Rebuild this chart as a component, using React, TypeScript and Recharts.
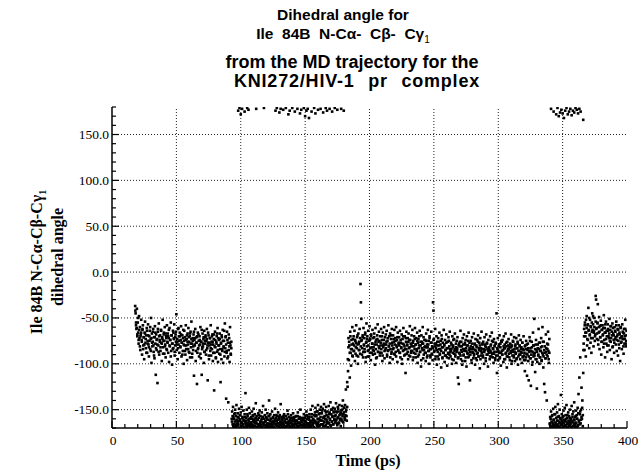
import React from 'react';
import { ScatterChart, Scatter, XAxis, YAxis, ReferenceLine } from 'recharts';

// Two sampling passes over the trajectory: 3 frames/ps and 2 frames/ps (offset)
const PASS1_PER_PS = 3;
const PASS2_PER_PS = 2;
const PASS2_OFFSET = 1 / 6;

// Segment A: 18 ps - 93 ps (state around -75)
const SEG_A_START = 18;
const SEG_A = [
  -37,-45,-58,-62,-40,-70,-55,-66,-78,-48,-72,-60,-85,-68,-52,
  -74,-90,-63,-58,-80,-71,-95,-66,-54,-77,-83,-69,-61,-88,-75,
  -57,-79,-92,-70,-64,-84,-73,-50,-99,-67,-81,-76,-62,-87,-71,
  -94,-59,-78,-112,-68,-85,-73,-121,-65,-80,-56,-90,-74,-69,-86,
  -63,-77,-97,-71,-52,-82,-75,-66,-89,-60,-79,-93,-70,-84,-58,
  -76,-67,-88,-72,-98,-61,-81,-74,-55,-86,-69,-101,-78,-64,-83,
  -72,-57,-91,-80,-68,-76,-46,-85,-73,-95,-62,-79,-70,-88,-66,
  -81,-74,-59,-92,-77,-69,-86,-63,-100,-75,-80,-71,-90,-58,-84,
  -73,-96,-67,-79,-61,-87,-76,-70,-93,-65,-82,-54,-78,-89,-72,
  -85,-68,-113,-74,-80,-62,-97,-77,-71,-122,-88,-66,-83,-75,-92,
  -70,-79,-60,-94,-76,-112,-84,-67,-81,-73,-99,-64,-87,-78,-71,
  -90,-75,-62,-83,-118,-77,-69,-95,-80,-72,-86,-58,-91,-76,-84,
  -68,-97,-79,-73,-129,-88,-65,-82,-93,-76,-70,-87,-61,-98,-80,
  -74,-89,-67,-84,-120,-78,-95,-71,-86,-63,-99,-81,-75,-92,-56,
  -83,-70,-138,-88,-65,-94,-77,-142,-85,-72,-98,-60,-80,-90,-76,
];
const SEG_A2 = [
  -42,-55,-61,-68,-50,-74,-63,-81,-70,-66,
  -76,-62,-84,-71,-79,-67,-73,-88,-64,-78,
  -69,-82,-75,-60,-86,-72,-77,-65,-80,-91,
  -71,-66,-83,-74,-79,-62,-87,-70,-76,-82,
  -64,-78,-73,-89,-68,-75,-81,-67,-72,-85,
  -77,-70,-63,-80,-74,-92,-69,-78,-84,-66,
  -73,-87,-71,-65,-79,-76,-83,-61,-75,-70,
  -82,-68,-77,-90,-72,-79,-64,-86,-74,-80,
  -69,-76,-84,-71,-88,-67,-78,-73,-93,-75,
  -81,-65,-79,-72,-86,-77,-70,-84,-68,-80,
  -74,-89,-76,-63,-82,-78,-71,-87,-75,-69,
  -85,-73,-80,-66,-91,-77,-72,-83,-79,-70,
  -76,-88,-68,-81,-74,-94,-78,-67,-85,-72,
  -80,-73,-90,-77,-69,-84,-75,-82,-64,-87,
  -71,-79,-86,-74,-92,-68,-81,-77,-89,-83,
];

// Segment B: 93 ps - 183 ps (trans state near -165, partly wrapped)
const SEG_B_START = 93;
const SEG_B = [
  -160,-152,-166,-147,-158,-169,-155,-163,-150,-167,-157,-145,-162,-168,-154,
  -165,-159,-149,-170,-156,-161,-153,-168,-147,-164,-158,-166,-151,-162,-169,
  -155,-163,-132,-167,-159,-150,-165,-157,-168,-161,-148,-166,-154,-160,-169,
  -158,-164,-152,-167,-156,-162,-149,-168,-160,-155,-165,-143,-163,-157,-169,
  -161,-166,-154,-159,-168,-151,-164,-157,-167,-162,-153,-169,-158,-146,-165,
  -160,-167,-156,-163,-150,-168,-159,-165,-154,-161,-169,-157,-140,-166,-162,
  -155,-168,-160,-164,-152,-167,-158,-163,-169,-156,-161,-149,-166,-159,-165,
  -162,-157,-168,-153,-165,-160,-169,-156,-163,-144,-167,-158,-164,-161,-170,
  -166,-159,-155,-168,-162,-164,-157,-169,-160,-165,-151,-167,-163,-158,-170,
  -161,-168,-164,-156,-169,-159,-166,-162,-154,-167,-160,-165,-170,-158,-163,
  -157,-166,-162,-169,-153,-164,-160,-168,-158,-165,-150,-167,-161,-163,-170,
  -164,-159,-168,-155,-166,-162,-169,-157,-163,-152,-167,-160,-165,-158,-170,
  -161,-155,-167,-163,-150,-168,-158,-164,-146,-166,-160,-169,-156,-162,-153,
  -148,-165,-157,-152,-168,-160,-145,-163,-155,-167,-150,-161,-158,-147,-166,
  -154,-162,-149,-168,-158,-144,-164,-151,-160,-167,-147,-156,-163,-152,-169,
  -158,-146,-165,-153,-161,-142,-168,-155,-150,-163,-157,-148,-166,-152,-160,
  -149,-164,-156,-143,-161,-153,-167,-147,-158,-152,-165,-145,-160,-155,-168,
  -151,-162,-146,-157,-140,-164,-153,-148,-160,-145,-156,-128,-150,-162,-120,
];
const SEG_B2 = [
  -163,-157,-168,-160,-166,-154,-169,-161,-165,-158,
  -167,-162,-170,-156,-164,-168,-159,-166,-161,-169,
  -158,-165,-162,-169,-155,-167,-163,-160,-168,-164,
  -166,-160,-169,-157,-164,-162,-168,-159,-165,-170,
  -161,-168,-156,-166,-163,-169,-160,-164,-158,-167,
  -164,-170,-162,-158,-167,-161,-168,-165,-157,-169,
  -160,-166,-163,-169,-159,-165,-170,-162,-167,-156,
  -168,-161,-165,-158,-170,-163,-166,-160,-169,-164,
  -157,-167,-162,-169,-164,-160,-168,-155,-166,-163,
  -165,-159,-170,-163,-161,-167,-158,-169,-162,-166,
  -162,-168,-157,-165,-169,-160,-164,-167,-159,-170,
  -167,-161,-166,-159,-163,-170,-156,-165,-168,-160,
  -158,-165,-169,-162,-155,-167,-161,-164,-170,-157,
  -163,-156,-167,-152,-165,-160,-168,-154,-162,-166,
  -151,-166,-159,-163,-157,-168,-153,-161,-165,-158,
  -164,-155,-160,-167,-150,-163,-158,-166,-153,-161,
  -157,-162,-152,-165,-159,-149,-164,-156,-161,-154,
  -160,-150,-163,-155,-148,-158,-161,-152,-157,-147,
];

// Segment C: 183 ps - 340 ps (back around -82)
const SEG_C_START = 183;
const SEG_C = [
  -125,-108,-72,-96,-80,-115,-65,-88,-102,-74,-84,-60,-92,-78,-70,
  -86,-64,-97,-75,-82,-58,-91,-71,-79,-100,-67,-85,-76,-62,-89,
  -13,-33,-51,-74,-83,-69,-93,-61,-80,-72,-87,-66,-98,-77,-56,
  -81,-70,-92,-64,-85,-75,-59,-88,-73,-96,-68,-82,-78,-63,-90,
  -72,-86,-67,-79,-101,-61,-84,-74,-93,-69,-57,-87,-76,-65,-83,
  -91,-70,-80,-62,-88,-74,-97,-66,-82,-78,-60,-94,-71,-85,-68,
  -79,-64,-92,-75,-86,-58,-81,-70,-99,-67,-84,-73,-89,-62,-77,
  -95,-69,-83,-76,-63,-90,-72,-87,-60,-80,-74,-98,-66,-85,-78,
  -71,-88,-64,-93,-77,-82,-68,-100,-73,-86,-61,-79,-91,-70,-84,
  -110,-76,-65,-89,-80,-72,-95,-67,-83,-74,-59,-92,-78,-86,-69,
  -81,-63,-96,-75,-88,-70,-84,-61,-79,-93,-72,-86,-66,-99,-77,
  -73,-90,-80,-64,-87,-76,-103,-69,-83,-78,-60,-94,-71,-85,-82,
  -88,-74,-97,-67,-82,-79,-91,-63,-86,-75,-100,-70,-84,-93,-77,
  -65,-89,-81,-96,-33,-42,-73,-86,-78,-62,-92,-83,-70,-101,-76,
  -87,-72,-95,-80,-66,-90,-84,-75,-104,-69,-82,-93,-77,-88,-63,
  -79,-98,-74,-85,-91,-68,-83,-102,-76,-89,-71,-94,-81,-65,-87,
  -92,-77,-84,-100,-70,-88,-80,-96,-73,-86,-67,-90,-82,-99,-75,
  -85,-71,-115,-93,-122,-78,-89,-81,-64,-95,-76,-87,-101,-72,-84,
  -91,-68,-86,-79,-97,-74,-83,-103,-70,-88,-80,-93,-66,-85,-77,
  -118,-90,-75,-84,-99,-71,-87,-82,-94,-67,-89,-78,-101,-73,-86,
  -80,-96,-74,-88,-69,-92,-83,-77,-105,-72,-86,-91,-65,-84,-79,
  -93,-76,-87,-100,-71,-85,-81,-97,-68,-90,-78,-84,-103,-74,-88,
  -82,-95,-70,-86,-79,-92,-66,-89,-83,-76,-99,-73,-87,-80,-94,
  -77,-91,-45,-110,-84,-72,-96,-81,-88,-69,-93,-78,-102,-75,-86,
  -90,-74,-85,-98,-70,-83,-79,-95,-67,-88,-81,-104,-76,-92,-84,
  -73,-89,-82,-96,-78,-86,-68,-100,-80,-91,-75,-87,-93,-71,-84,
  -97,-79,-88,-72,-94,-83,-76,-101,-86,-69,-90,-81,-95,-74,-87,
  -82,-99,-77,-92,-84,-70,-96,-88,-108,-80,-93,-75,-89,-113,-85,
  -78,-97,-118,-86,-71,-94,-83,-124,-90,-76,-101,-87,-66,-92,-80,
  -51,-88,-109,-95,-74,-85,-127,-98,-79,-91,-62,-84,-100,-77,-93,
  -86,-72,-96,-81,-60,-90,-104,-76,-122,-88,-131,-94,-68,-83,-140,
  -78,-92,-65,-86,-99,-73,
];
const SEG_C2 = [
  -95,-82,-76,-88,-70,-84,-79,-91,-73,-86,
  -80,-74,-89,-77,-83,-69,-92,-78,-85,-72,
  -81,-75,-90,-71,-87,-79,-84,-68,-93,-76,
  -73,-86,-80,-92,-74,-83,-70,-88,-78,-85,
  -82,-71,-89,-76,-94,-79,-73,-87,-81,-75,
  -88,-77,-84,-70,-91,-80,-74,-86,-79,-83,
  -76,-90,-72,-85,-81,-78,-93,-69,-87,-80,
  -84,-73,-89,-79,-75,-92,-82,-71,-86,-77,
  -80,-88,-74,-83,-95,-78,-70,-85,-81,-90,
  -72,-84,-79,-87,-76,-91,-82,-74,-88,-80,
  -86,-77,-93,-81,-73,-89,-79,-84,-75,-92,
  -83,-70,-87,-80,-96,-76,-85,-78,-90,-74,
  -81,-88,-75,-93,-82,-79,-86,-72,-91,-84,
  -77,-90,-83,-74,-87,-81,-95,-78,-85,-80,
  -92,-76,-84,-89,-79,-86,-73,-94,-82,-88,
  -80,-91,-85,-77,-93,-83,-88,-75,-90,-84,
  -86,-79,-95,-82,-74,-89,-84,-92,-78,-87,
  -83,-94,-80,-88,-76,-91,-85,-81,-97,-79,
  -90,-84,-77,-93,-86,-80,-89,-75,-92,-83,
  -87,-81,-96,-78,-88,-84,-91,-79,-85,-94,
  -82,-89,-76,-92,-85,-80,-95,-83,-88,-78,
  -91,-84,-87,-79,-94,-82,-77,-90,-86,-83,
  -85,-92,-80,-88,-75,-93,-84,-89,-81,-96,
  -78,-87,-83,-91,-86,-79,-94,-82,-88,-76,
  -90,-85,-81,-95,-83,-89,-77,-92,-86,-80,
  -84,-93,-79,-88,-82,-97,-85,-76,-91,-87,
  -81,-89,-95,-83,-78,-92,-86,-80,-90,-84,
  -88,-77,-93,-85,-91,-81,-96,-84,-79,-90,
  -83,-92,-87,-75,-94,-86,-82,-98,-80,-89,
  -91,-84,-79,-95,-87,-83,-90,-77,-93,-86,
  -82,-97,-88,-76,-92,-85,-81,-94,-87,-90,
  -84,-79,-95,-88,
];

// Segment D: 340 ps - 366 ps (trans state again)
const SEG_D_START = 340;
const SEG_D = [
  -165,-158,-168,-152,-163,-170,-156,-166,-149,-161,-169,-155,-164,-147,-167,
  -159,-168,-153,-162,-144,-166,-157,-170,-150,-164,-160,-134,-167,-155,-163,
  -158,-169,-151,-165,-161,-148,-168,-156,-163,-145,-166,-159,-170,-153,-162,
  -157,-167,-150,-164,-160,-169,-146,-163,-155,-168,-152,-161,-142,-166,-158,
  -164,-151,-169,-156,-160,-148,-167,-133,-162,-115,-155,-93,-165,-150,-126,
  -160,-140,-168,
];
const SEG_D2 = [
  -166,-160,-169,-157,-164,-168,-161,-167,-155,-165,
  -170,-162,-158,-168,-163,-169,-159,-166,-161,-170,
  -164,-157,-168,-162,-167,-160,-169,-156,-165,-163,
  -168,-159,-166,-162,-170,-158,-164,-167,-161,-169,
  -157,-165,-160,-168,-154,-163,-166,-152,-161,-158,
  -148,-156,
];

// Segment E: 366 ps - 400 ps (around -67)
const SEG_E_START = 366;
const SEG_E = [
  -110,-78,-62,-85,-55,-70,-92,-66,-48,-80,-58,-74,-39,-63,-83,
  -69,-52,-77,-60,-88,-65,-45,-72,-57,-81,-64,-50,-75,-68,-26,
  -30,-61,-73,-55,-35,-79,-66,-49,-84,-59,-71,-53,-90,-63,-76,
  -58,-68,-82,-47,-74,-61,-93,-66,-54,-78,-70,-87,-57,-64,-80,
  -72,-51,-85,-63,-76,-59,-95,-69,-56,-81,-67,-74,-88,-60,-73,
  -65,-79,-54,-86,-70,-62,-91,-75,-58,-83,-68,-97,-61,-77,-71,
  -84,-57,-73,-66,-89,-62,-78,-70,-52,-81,-75,-64,
];
const SEG_E2 = [
  -85,-70,-58,-66,-52,-61,-73,-57,-64,-50,
  -68,-59,-72,-55,-63,-48,-66,-60,-70,-54,
  -62,-67,-56,-74,-60,-65,-71,-58,-76,-63,
  -69,-61,-78,-66,-57,-73,-64,-80,-62,-70,
  -67,-75,-59,-72,-65,-82,-61,-69,-77,-64,
  -71,-58,-74,-68,-63,-79,-66,-72,-60,-76,
  -70,-65,-81,-67,-73,-62,-78,-69,
];

// Frames of the trans state that wrapped past 180 (shown at the top)
const TOP_WRAP_T = [
  98,99,100,101,103,105,106,112,118,127,128,130,131,133,135,137,138,140,142,144,
  146,147,149,150,151,152,153,155,157,158,160,162,164,166,167,169,171,173,175,178,180,
  341,343,345,346,347,348,349,350,351,352,353,354,355,356,357,358,359,360,361,362,363,364,366,
];
const TOP_WRAP_ANGLE = [
  176,179,172,178,175,179,177,178,179,176,179,174,178,177,179,172,176,179,175,178,
  173,177,179,170,176,178,168,175,179,173,177,178,174,179,176,178,175,179,177,178,176,
  178,175,172,179,170,174,177,173,168,176,179,172,175,178,171,176,174,179,177,173,178,175,166,
];

const X_TICKS = [
  0,10,20,30,40,50,60,70,80,90,100,110,120,130,140,150,160,170,180,190,200,
  210,220,230,240,250,260,270,280,290,300,310,320,330,340,350,360,370,380,390,400,
];
const Y_TICKS = [
  -170,-160,-150,-140,-130,-120,-110,-100,-90,-80,-70,-60,-50,-40,-30,-20,-10,0,
  10,20,30,40,50,60,70,80,90,100,110,120,130,140,150,160,170,180,
];
const X_GRID = [50, 100, 150, 200, 250, 300, 350];
const Y_GRID = [-150, -100, -50, 0, 50, 100, 150];

const toPoints = (start: number, values: number[], perPs: number) =>
  values.map((v, i) => ({ t: start + i / perPs, angle: v }));

const points = [
  ...toPoints(SEG_A_START, SEG_A, PASS1_PER_PS),
  ...toPoints(SEG_B_START, SEG_B, PASS1_PER_PS),
  ...toPoints(SEG_C_START, SEG_C, PASS1_PER_PS),
  ...toPoints(SEG_D_START, SEG_D, PASS1_PER_PS),
  ...toPoints(SEG_E_START, SEG_E, PASS1_PER_PS),
  ...toPoints(SEG_A_START + PASS2_OFFSET, SEG_A2, PASS2_PER_PS),
  ...toPoints(SEG_B_START + PASS2_OFFSET, SEG_B2, PASS2_PER_PS),
  ...toPoints(SEG_C_START + PASS2_OFFSET, SEG_C2, PASS2_PER_PS),
  ...toPoints(SEG_D_START + PASS2_OFFSET, SEG_D2, PASS2_PER_PS),
  ...toPoints(SEG_E_START + PASS2_OFFSET, SEG_E2, PASS2_PER_PS),
  ...TOP_WRAP_T.map((t, i) => ({ t, angle: TOP_WRAP_ANGLE[i] })),
];

const SERIF = '"Liberation Serif", "Times New Roman", Times, serif';
const SANS = '"Liberation Sans", Arial, Helvetica, sans-serif';

const tickText: React.CSSProperties = { fontFamily: SERIF, fontSize: 13.5 };

const BottomTick = (p: any) => {
  const v = p.payload.value;
  const major = v % 50 === 0;
  return (
    <g>
      <line x1={p.x} x2={p.x} y1={p.y} y2={p.y - (major ? 7 : 4)} stroke="#000" strokeWidth={1.2} />
      {major && (
        <text x={p.x + 1} y={p.y + 17} textAnchor="middle" fontFamily={SERIF} style={tickText} fill="#000">
          {v}
        </text>
      )}
    </g>
  );
};
const TopTick = (p: any) => {
  const major = p.payload.value % 50 === 0;
  return <line x1={p.x} x2={p.x} y1={p.y} y2={p.y + (major ? 7 : 4)} stroke="#000" strokeWidth={1.2} />;
};
const LeftTick = (p: any) => {
  const v = p.payload.value;
  const major = v % 50 === 0;
  return (
    <g>
      <line x1={p.x} x2={p.x + (major ? 7 : 4)} y1={p.y} y2={p.y} stroke="#000" strokeWidth={1.2} />
      {major && (
        <text x={p.x - 3} y={p.y + 4.5} textAnchor="end" fontFamily={SERIF} style={tickText} fill="#000">
          {v.toFixed(1)}
        </text>
      )}
    </g>
  );
};
const RightTick = (p: any) => {
  const major = p.payload.value % 50 === 0;
  return <line x1={p.x} x2={p.x - (major ? 7 : 4)} y1={p.y} y2={p.y} stroke="#000" strokeWidth={1.2} />;
};

const Dot = (p: any) => <rect x={p.cx - 1.3} y={p.cy - 1.3} width={2.6} height={2.6} fill="#000" />;

const titleLine = (top: number, center: number, size: number): React.CSSProperties => ({
  position: 'absolute',
  left: center - 300,
  width: 600,
  top,
  textAlign: 'center',
  fontFamily: SANS,
  fontWeight: 'bold',
  fontSize: size,
  lineHeight: '20px',
  whiteSpace: 'pre',
  color: '#000',
});

const axisTitle: React.CSSProperties = {
  position: 'absolute',
  fontFamily: SERIF,
  fontWeight: 'bold',
  fontSize: 16,
  whiteSpace: 'nowrap',
  color: '#000',
};

export default function App() {
  return (
    <div style={{ position: 'absolute', left: 0, top: 0, width: 642, height: 470, background: '#fff' }}>
      <div style={titleLine(5, 343, 15.5)}>Dihedral angle for</div>
      <div style={titleLine(24, 343, 15.5)}>
        Ile  84B  N-Cα-  Cβ-  Cγ<sub style={{ fontSize: 10, fontWeight: 'normal' }}>1</sub>
      </div>
      <div style={titleLine(52, 352, 18)}>from the MD trajectory for the</div>
      <div style={{ ...titleLine(71, 357, 18), letterSpacing: 0.8, wordSpacing: 1 }}>KNI272/HIV-1  pr  complex</div>

      <div style={{ position: 'absolute', left: 0, top: 0 }}>
        <ScatterChart width={642} height={470} margin={{ top: 107, right: 15, bottom: 12, left: 52 }}>
          <XAxis
            xAxisId={0}
            dataKey="t"
            type="number"
            domain={[0, 400]}
            ticks={X_TICKS}
            interval={0}
            tickSize={0}
            tickMargin={0}
            tick={BottomTick}
            tickLine={false}
            height={30}
            axisLine={{ stroke: '#000', strokeWidth: 1.5 }}
            allowDataOverflow
          />
          <XAxis
            xAxisId="top"
            orientation="top"
            type="number"
            domain={[0, 400]}
            ticks={X_TICKS}
            interval={0}
            tickSize={0}
            tickMargin={0}
            tick={TopTick}
            tickLine={false}
            height={0}
            axisLine={{ stroke: '#000', strokeWidth: 1.5 }}
            allowDataOverflow
          />
          <YAxis
            yAxisId={0}
            dataKey="angle"
            type="number"
            domain={[-170, 180]}
            ticks={Y_TICKS}
            interval={0}
            tickSize={0}
            tickMargin={0}
            tick={LeftTick}
            tickLine={false}
            width={60}
            axisLine={{ stroke: '#000', strokeWidth: 1.5 }}
            allowDataOverflow
          />
          <YAxis
            yAxisId="right"
            orientation="right"
            type="number"
            domain={[-170, 180]}
            ticks={Y_TICKS}
            interval={0}
            tickSize={0}
            tickMargin={0}
            tick={RightTick}
            tickLine={false}
            width={0}
            axisLine={{ stroke: '#000', strokeWidth: 1.5 }}
            allowDataOverflow
          />
          {X_GRID.map((x) => (
            <ReferenceLine key={'gx' + x} x={x} xAxisId={0} yAxisId={0} stroke="#222" strokeDasharray="1 2" strokeWidth={1} />
          ))}
          {Y_GRID.map((y) => (
            <ReferenceLine key={'gy' + y} y={y} xAxisId={0} yAxisId={0} stroke="#222" strokeDasharray="1 2" strokeWidth={1} />
          ))}
          <Scatter data={points} xAxisId={0} yAxisId={0} shape={Dot} isAnimationActive={false} />
        </ScatterChart>
      </div>

      <div style={{ ...axisTitle, left: 38, top: 262, transform: 'translate(-50%, -50%) rotate(-90deg)' }}>
        Ile 84B N-Cα-Cβ-Cγ<sub style={{ fontSize: 10 }}>1</sub>
      </div>
      <div style={{ ...axisTitle, left: 58, top: 257, transform: 'translate(-50%, -50%) rotate(-90deg)' }}>
        dihedral angle
      </div>
      <div style={{ ...axisTitle, left: 368, top: 461, transform: 'translate(-50%, -50%)' }}>Time (ps)</div>
    </div>
  );
}
